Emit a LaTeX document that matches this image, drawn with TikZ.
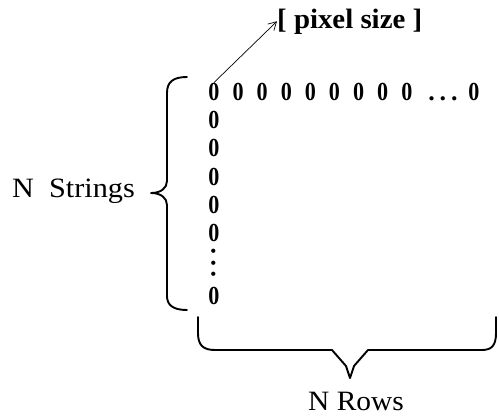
\documentclass[tikz,border=0pt]{standalone}
\usepackage{graphicx}
\usepackage{fontspec}
\setmainfont{Liberation Serif}
\usetikzlibrary{arrows.meta}
\newcommand\narrowzero{\scalebox{0.85}[1]{0}}
\begin{document}
\begin{tikzpicture}[x=1pt,y=-1pt,
  zero/.style={inner sep=0pt, font=\fontsize{26}{26}\selectfont\bfseries, anchor=base},
  lbl/.style={inner sep=0pt, font=\fontsize{28}{28}\selectfont, anchor=base west},
  boldlbl/.style={inner sep=0pt, font=\fontsize{28}{28}\selectfont\bfseries, anchor=base west},
  brace/.style={line width=1.9pt, line join=round, line cap=round},
  arr/.style={line width=0.7pt, -{Straight Barb[length=8pt,width=9pt]}}]
\useasboundingbox (0,0) rectangle (499,416);
% labels
\node[boldlbl] (ps) at (277,28) {\scalebox{1.03}[1]{[ pixel size ]}};
\node[lbl] (ns) at (12,197) {\scalebox{1.08}[1]{N\ \ Strings}};
\node[lbl] (nr) at (308,410) {\scalebox{1.05}[1]{N Rows}};
% top row of zeros
\foreach \i in {0,...,8} \node[zero] (r\i) at (214+24.1*\i,100) {\narrowzero};
\node[zero] (rd) at (443,100) {.\hspace{5pt}.\hspace{5pt}.};
\node[zero] (rl) at (474,100) {\narrowzero};
% column of zeros
\foreach \y [count=\k] in {128,156,185,213,241} \node[zero] (c\k) at (214,\y) {\narrowzero};
\node[zero, anchor=center] (cd) at (214,263) {\rotatebox{90}{.\hspace{5pt}.\hspace{5pt}.}};
\node[zero] (cl) at (214,304) {\narrowzero};
% arrow
\draw[arr] (r0.north) -- (ps.west);
% left brace
\draw[brace] (187,77) .. controls (173,77) and (167,82) .. (167,93) -- (167,181)
  .. controls (167,188) and (161,193) .. (151,193)
  .. controls (161,193) and (167,198) .. (167,205) -- (167,296)
  .. controls (167,305) and (173,310) .. (187,310);
% bottom brace
\draw[brace] (198,317) -- (198,333) .. controls (198,345) and (203,350) .. (215,350)
  -- (332,350) -- (346,366) -- (350,378) -- (354,366) -- (368,350) -- (482,350)
  .. controls (492,350) and (496,345) .. (496,333) -- (496,317);
\end{tikzpicture}
\end{document}
